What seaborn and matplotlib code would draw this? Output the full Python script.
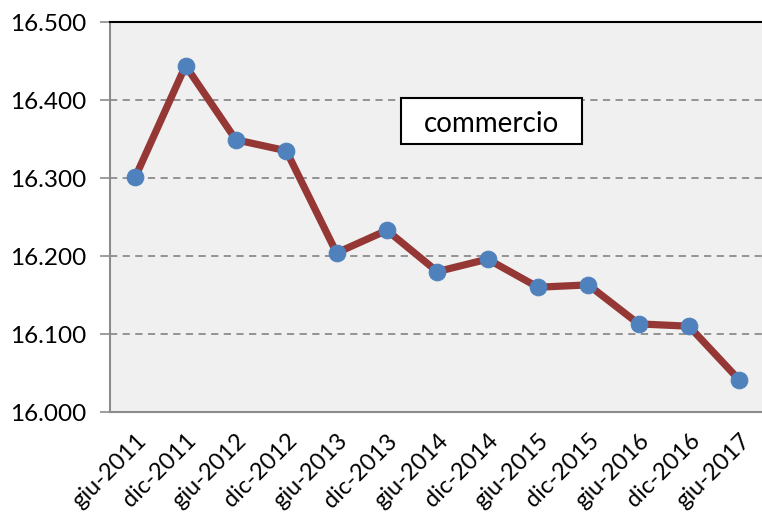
import matplotlib
matplotlib.use("Agg")
from matplotlib import pyplot as plt
from matplotlib.patches import Rectangle
from matplotlib.ticker import FuncFormatter, FixedLocator
import numpy as np
import seaborn as sns

periodi = ['giu-2011', 'dic-2011', 'giu-2012', 'dic-2012', 'giu-2013', 'dic-2013',
           'giu-2014', 'dic-2014', 'giu-2015', 'dic-2015', 'giu-2016', 'dic-2016',
           'giu-2017']
commercio = [16301, 16444, 16349, 16335, 16204, 16233, 16180, 16196,
             16160, 16163, 16113, 16110, 16041]

sns.set_style("white")
plt.rcParams['font.family'] = ['Lato', 'DejaVu Sans']
plt.rcParams['text.color'] = 'black'
plt.rcParams['xtick.labelcolor'] = 'black'
plt.rcParams['ytick.labelcolor'] = 'black'

fig = plt.figure(figsize=(7.62, 5.18), dpi=100)
ax = fig.add_axes([0.1444, 0.2046, 0.8556, 0.7529])
ax.set_facecolor('#f0f0f0')

idx = np.arange(len(periodi))
sns.lineplot(x=idx, y=commercio, ax=ax, color='#953735', linewidth=5.2,
             marker='o', markersize=12, markerfacecolor='#4f81bd',
             markeredgecolor='#4f81bd', zorder=3)

ax.set_xlim(-0.5, 12.45)
ax.set_ylim(16000, 16500)
ax.set_yticks(np.arange(16000, 16501, 100))
ax.yaxis.set_major_formatter(FuncFormatter(lambda v, p: f"{v/1000:.3f}"))
for y in [16100, 16200, 16300, 16400]:
    ax.axhline(y, color='#8c8c8c', linestyle=(0, (4, 3)), linewidth=1.3, zorder=1)

ax.set_xticks(idx)
ax.set_xticklabels(periodi, rotation=45, ha='right', rotation_mode='anchor')
ax.tick_params(axis='x', which='major', length=0, pad=13, labelsize=17)
ax.xaxis.set_minor_locator(FixedLocator(np.arange(-0.5, 12.6, 1)))
ax.tick_params(axis='x', which='minor', length=8, width=1.2, color='#8c8c8c')
ax.tick_params(axis='y', length=7, width=1.2, color='#8c8c8c', labelsize=17.5, pad=10,
               left=True)

for s in ['left', 'bottom']:
    ax.spines[s].set_color('#8c8c8c')
    ax.spines[s].set_linewidth(1.5)
ax.spines['top'].set_color('black')
ax.spines['top'].set_linewidth(1.5)
ax.spines['right'].set_visible(False)

ax.add_patch(Rectangle((0.4458, 0.687), 0.2779, 0.118, transform=ax.transAxes,
                       facecolor='white', edgecolor='black', linewidth=1.5, zorder=4))
ax.text(0.5847, 0.738, 'commercio', transform=ax.transAxes, fontsize=20,
        ha='center', va='center', zorder=5)

fig.savefig('out.png', dpi=100)
